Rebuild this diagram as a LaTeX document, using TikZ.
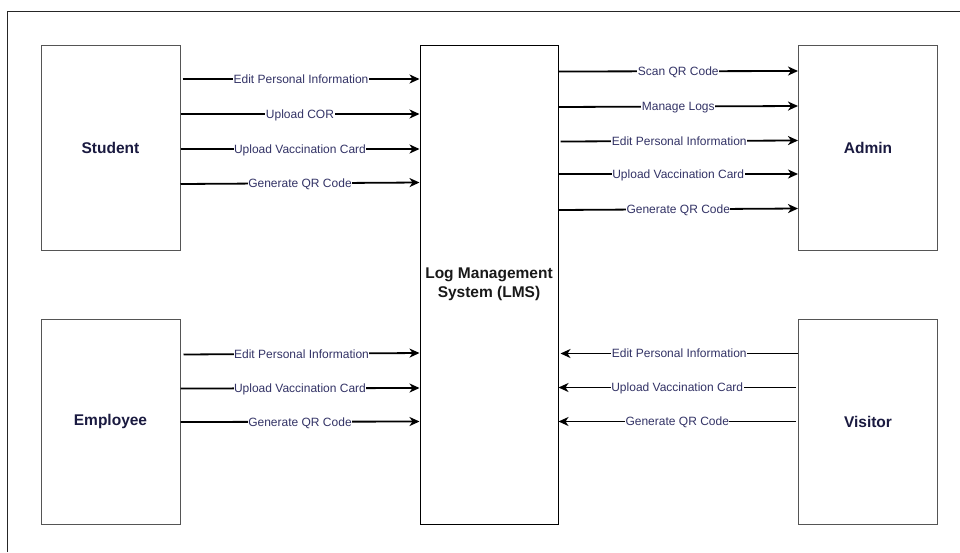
\documentclass[tikz,border=0pt]{standalone}
\usepackage{fontspec}
\setmainfont{Liberation Sans}
\usetikzlibrary{arrows.meta}
\definecolor{navy}{HTML}{1A1A40}
\definecolor{lbl}{HTML}{333366}
\definecolor{actorborder}{HTML}{555555}
\tikzset{
  actor/.style={draw=actorborder, line width=1pt, minimum width=139pt, minimum height=205pt, inner sep=0pt,
    font=\fontsize{15.5}{18}\selectfont\bfseries, text=navy},
  sysbox/.style={draw=black, line width=1pt, minimum width=138pt, minimum height=479pt, inner sep=0pt,
    font=\fontsize{15.5}{19}\selectfont\bfseries, text=black!90, align=center},
  arr/.style={draw=black, line width=1.8pt, -{Stealth[length=10pt,width=9pt,inset=3pt]}},
  elabel/.style={fill=white, text=lbl, font=\fontsize{12}{14}\selectfont, inner xsep=0.5pt, inner ysep=0pt,
    text height=8.6pt, text depth=0pt}
}
\begin{document}
\begin{tikzpicture}[x=1pt,y=-1pt]
\useasboundingbox (0,0) rectangle (960,552);
\fill[white] (0,0) rectangle (960,552);
\draw[black!85, line width=1pt] (7,552) -- (7,11) -- (960,11);

\node[actor] (student) at (110.5,147.5) {Student};
\node[actor] (employee) at (110.5,421.5) {Employee};
\node[actor] (admin) at (868,147.5) {Admin};
\node[actor] (visitor) at (868,421.5) {Visitor};
\node[sysbox] (lms) at (489,284.5) {Log Management\\System (LMS)};

% Student -> LMS
\draw[arr] ([xshift=2pt]student.east |- 0,79) -- (lms.west |- 0,79) node[elabel, midway] {Edit Personal Information};
\draw[arr] (student.east |- 0,114) -- (lms.west |- 0,114) node[elabel, midway] {Upload COR};
\draw[arr] (student.east |- 0,149) -- (lms.west |- 0,149) node[elabel, midway] {Upload Vaccination Card};
\draw[arr] (student.east |- 0,184) -- (lms.west |- 0,182.5) node[elabel, midway] {Generate QR Code};

% LMS -> Admin
\draw[arr] (lms.east |- 0,71.5) -- (admin.west |- 0,71) node[elabel, midway] {Scan QR Code};
\draw[arr] (lms.east |- 0,107) -- (admin.west |- 0,106) node[elabel, midway] {Manage Logs};
\draw[arr] ([xshift=2pt]lms.east |- 0,141.5) -- (admin.west |- 0,140.5) node[elabel, midway] {Edit Personal Information};
\draw[arr] (lms.east |- 0,174) -- (admin.west |- 0,174) node[elabel, midway] {Upload Vaccination Card};
\draw[arr] (lms.east |- 0,210) -- (admin.west |- 0,208.5) node[elabel, midway] {Generate QR Code};

% Employee -> LMS
\draw[arr] ([xshift=3pt]employee.east |- 0,354.5) -- (lms.west |- 0,353) node[elabel, midway] {Edit Personal Information};
\draw[arr] (employee.east |- 0,388.5) -- (lms.west |- 0,388) node[elabel, midway] {Upload Vaccination Card};
\draw[arr] (employee.east |- 0,422) -- (lms.west |- 0,421.5) node[elabel, midway] {Generate QR Code};

% Visitor -> LMS
\draw[arr] (visitor.west |- 0,353.5) -- ([xshift=2pt]lms.east |- 0,353.5) node[elabel, midway] {Edit Personal Information};
\draw[arr] ([xshift=-2pt]visitor.west |- 0,387.5) -- (lms.east |- 0,387.5) node[elabel, midway] {Upload Vaccination Card};
\draw[arr] ([xshift=-2pt]visitor.west |- 0,421.5) -- (lms.east |- 0,421.5) node[elabel, midway] {Generate QR Code};
\end{tikzpicture}
\end{document}
